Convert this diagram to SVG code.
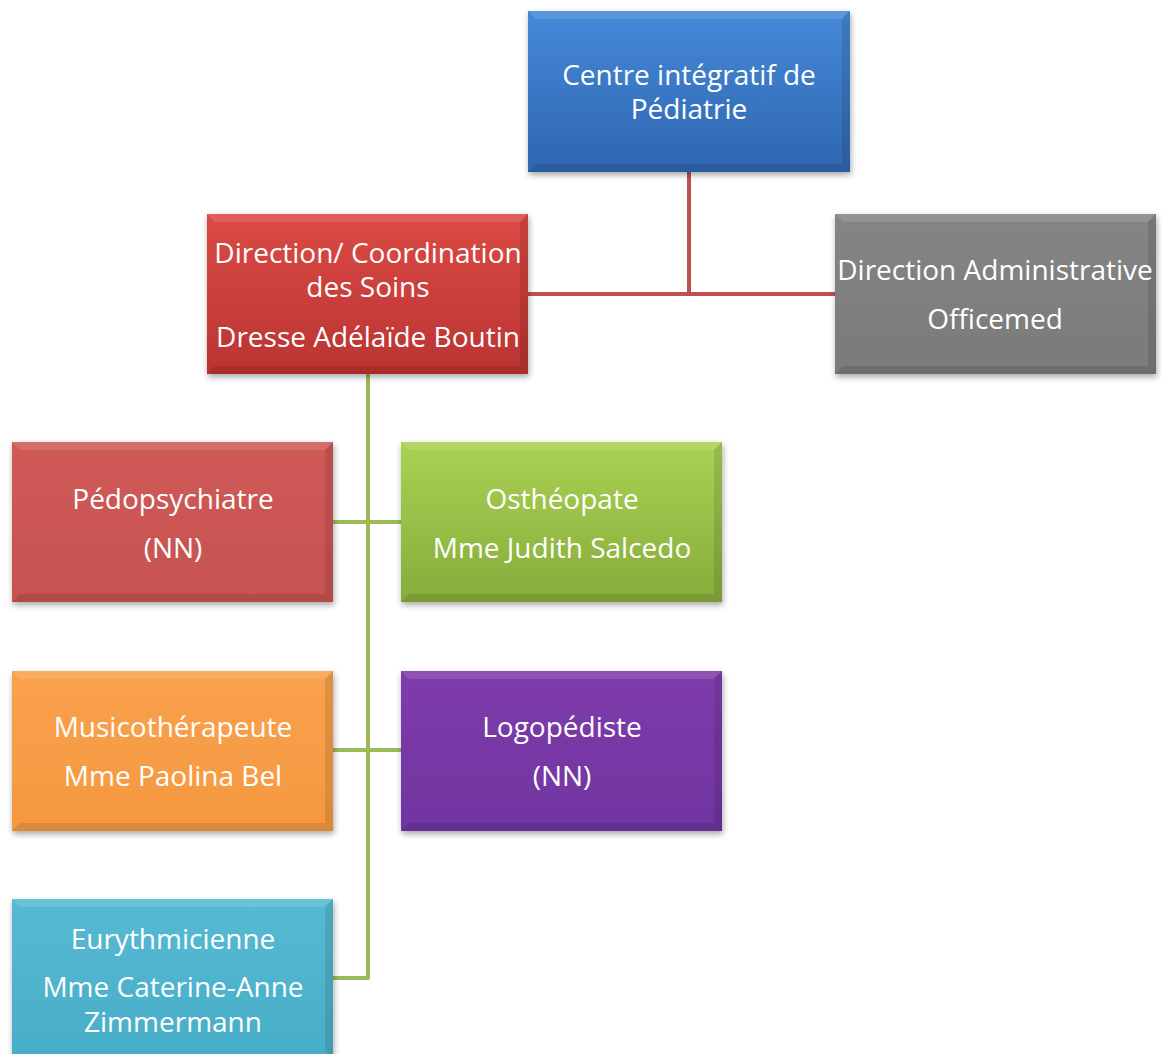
<svg xmlns="http://www.w3.org/2000/svg" width="1162" height="1054" viewBox="0 0 1162 1054">
<defs>
<filter id="sh" x="-10%" y="-10%" width="125%" height="130%"><feDropShadow dx="1" dy="3" stdDeviation="3" flood-color="#000" flood-opacity="0.35"/></filter>
<linearGradient id="gBlue" x1="0" y1="0" x2="0" y2="1"><stop offset="0" stop-color="#4589D8"/><stop offset="1" stop-color="#2F66B0"/></linearGradient>
<linearGradient id="gRed" x1="0" y1="0" x2="0" y2="1"><stop offset="0" stop-color="#DC4A45"/><stop offset="1" stop-color="#B93431"/></linearGradient>
<linearGradient id="gGray" x1="0" y1="0" x2="0" y2="1"><stop offset="0" stop-color="#858585"/><stop offset="1" stop-color="#7A7A7A"/></linearGradient>
<linearGradient id="gPink" x1="0" y1="0" x2="0" y2="1"><stop offset="0" stop-color="#D05A56"/><stop offset="1" stop-color="#C65350"/></linearGradient>
<linearGradient id="gGreen" x1="0" y1="0" x2="0" y2="1"><stop offset="0" stop-color="#AAD253"/><stop offset="1" stop-color="#86AC3B"/></linearGradient>
<linearGradient id="gOrange" x1="0" y1="0" x2="0" y2="1"><stop offset="0" stop-color="#FAA14D"/><stop offset="1" stop-color="#F59840"/></linearGradient>
<linearGradient id="gPurple" x1="0" y1="0" x2="0" y2="1"><stop offset="0" stop-color="#7E3CAB"/><stop offset="1" stop-color="#7035A0"/></linearGradient>
<linearGradient id="gCyan" x1="0" y1="0" x2="0" y2="1"><stop offset="0" stop-color="#56BAD3"/><stop offset="1" stop-color="#48ADC8"/></linearGradient>
</defs>
<style>
.t{font-family:"Open Sans","Noto Sans","Liberation Sans",sans-serif;font-size:28px;fill:#fff;text-anchor:middle}
.hi{fill:#fff;opacity:0.12}
.lo{fill:#000;opacity:0.1}
.cr{stroke:#C0504D;stroke-width:4;fill:none}
.cg{stroke:#9BBB59;stroke-width:4;fill:none;stroke-linejoin:round}
</style>
<g id="connectors">
<path class="cr" d="M689 172 V294 M528 294 H835"/>
<path class="cg" d="M368 374 V978 H333 M333 522 H401 M333 750 H401"/>
</g>
<g id="n-centre">
<rect x="528" y="11" width="322" height="161" fill="url(#gBlue)" filter="url(#sh)"/>
<polygon class="hi" points="528,11 850,11 842,19 536,19"/>
<polygon class="lo" points="850,11 850,172 842,164 842,19"/>
<polygon class="lo" points="528,172 850,172 842,164 536,164"/>
<text class="t" x="689" y="85">Centre intégratif de</text>
<text class="t" x="689" y="119">Pédiatrie</text>
</g>
<g id="n-direction">
<rect x="207" y="214" width="321" height="160" fill="url(#gRed)" filter="url(#sh)"/>
<polygon class="hi" points="207,214 528,214 520,222 215,222"/>
<polygon class="lo" points="528,214 528,374 520,366 520,222"/>
<polygon class="lo" points="207,374 528,374 520,366 215,366"/>
<text class="t" x="368" y="263">Direction/ Coordination</text>
<text class="t" x="368" y="297">des Soins</text>
<text class="t" x="368" y="347">Dresse Adélaïde Boutin</text>
</g>
<g id="n-admin">
<rect x="835" y="214" width="321" height="160" fill="url(#gGray)" filter="url(#sh)"/>
<polygon class="hi" points="835,214 1156,214 1148,222 843,222"/>
<polygon class="lo" points="1156,214 1156,374 1148,366 1148,222"/>
<polygon class="lo" points="835,374 1156,374 1148,366 843,366"/>
<text class="t" x="995" y="280">Direction Administrative</text>
<text class="t" x="995" y="329">Officemed</text>
</g>
<g id="n-pedo">
<rect x="12" y="442" width="321" height="160" fill="url(#gPink)" filter="url(#sh)"/>
<polygon class="hi" points="12,442 333,442 325,450 20,450"/>
<polygon class="lo" points="333,442 333,602 325,594 325,450"/>
<polygon class="lo" points="12,602 333,602 325,594 20,594"/>
<text class="t" x="173" y="509">Pédopsychiatre</text>
<text class="t" x="173" y="558">(NN)</text>
</g>
<g id="n-osteo">
<rect x="401" y="442" width="321" height="160" fill="url(#gGreen)" filter="url(#sh)"/>
<polygon class="hi" points="401,442 722,442 714,450 409,450"/>
<polygon class="lo" points="722,442 722,602 714,594 714,450"/>
<polygon class="lo" points="401,602 722,602 714,594 409,594"/>
<text class="t" x="562" y="509">Osthéopate</text>
<text class="t" x="562" y="558">Mme Judith Salcedo</text>
</g>
<g id="n-musico">
<rect x="12" y="671" width="321" height="160" fill="url(#gOrange)" filter="url(#sh)"/>
<polygon class="hi" points="12,671 333,671 325,679 20,679"/>
<polygon class="lo" points="333,671 333,831 325,823 325,679"/>
<polygon class="lo" points="12,831 333,831 325,823 20,823"/>
<text class="t" x="173" y="737">Musicothérapeute</text>
<text class="t" x="173" y="786">Mme Paolina Bel</text>
</g>
<g id="n-logo">
<rect x="401" y="671" width="321" height="160" fill="url(#gPurple)" filter="url(#sh)"/>
<polygon class="hi" points="401,671 722,671 714,679 409,679"/>
<polygon class="lo" points="722,671 722,831 714,823 714,679"/>
<polygon class="lo" points="401,831 722,831 714,823 409,823"/>
<text class="t" x="562" y="737">Logopédiste</text>
<text class="t" x="562" y="786">(NN)</text>
</g>
<g id="n-euryth">
<rect x="12" y="899" width="321" height="160" fill="url(#gCyan)" filter="url(#sh)"/>
<polygon class="hi" points="12,899 333,899 325,907 20,907"/>
<polygon class="lo" points="333,899 333,1059 325,1051 325,907"/>
<text class="t" x="173" y="949">Eurythmicienne</text>
<text class="t" x="173" y="997">Mme Caterine-Anne</text>
<text class="t" x="173" y="1032">Zimmermann</text>
</g>
</svg>
